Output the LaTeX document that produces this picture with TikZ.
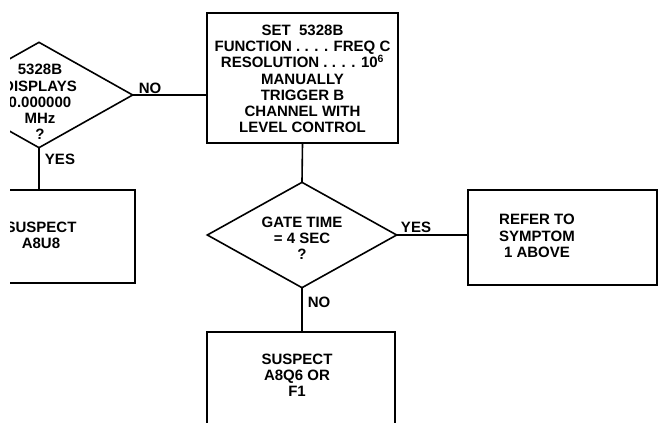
\documentclass[tikz,border=0pt]{standalone}
\usepackage{fontspec}
\setmainfont{Liberation Sans}
\usetikzlibrary{shapes.geometric}
\tikzset{
  ln/.style={line width=1.6pt, line cap=rect},
  boxn/.style={draw, ln, rectangle, inner sep=0pt},
  dia/.style={draw, ln, diamond, inner sep=0pt},
  txt/.style={align=center, inner sep=0pt, font=\fontsize{15}{16.2}\selectfont\bfseries},
  lbl/.style={inner sep=0pt, font=\fontsize{15}{16.2}\selectfont\bfseries},
}
\begin{document}
\begin{tikzpicture}[x=1pt,y=-1pt]
\useasboundingbox (0,0) rectangle (659,423);
\fill[white] (0,0) rectangle (659,423);
\begin{scope}
\clip (10,0) rectangle (659,423);
% shapes
\node[dia, minimum width=188pt, minimum height=106pt] (ld) at (39,95) {};
\node[boxn, minimum width=191pt, minimum height=130pt] (topbox) at (302.5,78) {};
\node[dia, minimum width=190pt, minimum height=106pt] (gd) at (302,235) {};
\node[boxn, minimum width=189pt, minimum height=95pt] (rbox) at (562.5,237.5) {};
\node[boxn, minimum width=188pt, minimum height=130pt] (bbox) at (301,397) {};
\node[boxn, minimum width=192pt, minimum height=93pt] (lbox) at (39,236.5) {};
% texts
\node[txt] (ldt) at (40,102) {5328B\\DISPLAYS\\0.000000\\MHz\\?};
\node[txt] (topt) at (302.5,79) {SET\ \ 5328B\\FUNCTION . . . . FREQ C\\RESOLUTION . . . . 10\textsuperscript{6}\\MANUALLY\\TRIGGER B\\CHANNEL WITH\\LEVEL CONTROL};
\node[txt] (gdt) at (302,238) {GATE TIME\\= 4 SEC\\?};
\node[txt] (rt) at (537,236) {REFER TO\\SYMPTOM\\1 ABOVE};
\node[txt] (bt) at (297,375) {SUSPECT\\A8Q6 OR\\F1};
\node[txt] (lt) at (41,235) {SUSPECT\\A8U8};
% connectors
\draw[ln] (ld.east) -- (ld.east -| topbox.west);
\draw[ln] (ld.south) -- (ld.south |- lbox.north);
\draw[ln] (topbox.south) -- (gd.north);
\draw[ln] (gd.east) -- (gd.east -| rbox.west);
\draw[ln] (gd.south) -- (gd.south |- bbox.north);
% labels
\node[lbl] (no1) at (150,88) {NO};
\node[lbl] (yes1) at (60,159) {YES};
\node[lbl] (yes2) at (416,227) {YES};
\node[lbl] (no2) at (319,302) {NO};
\end{scope}
\end{tikzpicture}
\end{document}
